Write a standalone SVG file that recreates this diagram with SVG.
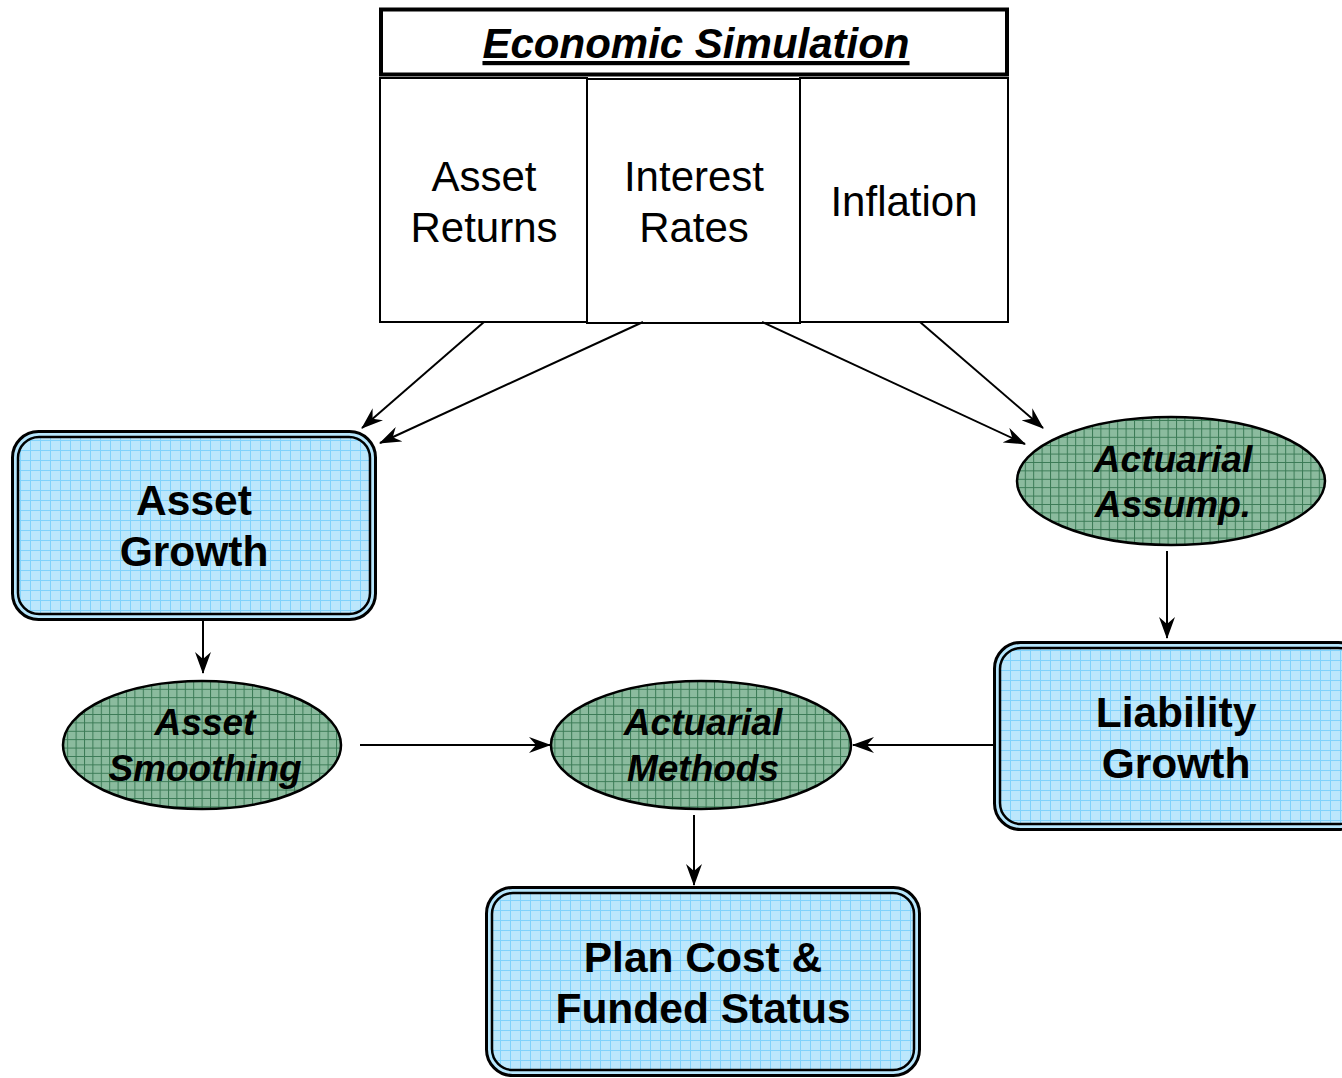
<svg xmlns="http://www.w3.org/2000/svg" width="1342" height="1078" viewBox="0 0 1342 1078">
  <style>
    .cell { fill: #ffffff; stroke: #000; stroke-width: 2; }
    .cellText { font-family: "Liberation Sans", Arial, sans-serif; font-size: 42px; fill: #000; text-anchor: middle; }
    .boxOuter { fill: #b7e6fc; stroke: #000; stroke-width: 3; }
    .boxInner { fill: url(#blueGrid); stroke: #000; stroke-width: 2.5; }
    .boxText { font-family: "Liberation Sans", Arial, sans-serif; font-size: 42.5px; font-weight: bold; fill: #000; text-anchor: middle; }
    .oval { fill: url(#greenGrid); stroke: #000; stroke-width: 2.5; }
    .ovalText { font-family: "Liberation Sans", Arial, sans-serif; font-size: 37px; font-weight: bold; font-style: italic; fill: #000; text-anchor: middle; }
    .link { stroke: #000; stroke-width: 2; fill: none; marker-end: url(#arrow); }
  </style>
  <defs>
    <pattern id="blueGrid" patternUnits="userSpaceOnUse" width="10" height="10">
      <rect width="10" height="10" fill="#bce7fc"/>
      <path d="M0 0.5H10M0.5 0V10" stroke="#80d2fb" stroke-width="1"/>
    </pattern>
    <pattern id="greenGrid" patternUnits="userSpaceOnUse" width="8.4" height="8.4">
      <rect width="8.4" height="8.4" fill="#8bbb9e"/>
      <path d="M0 0.5H8.4M0.5 0V8.4" stroke="#3a7a55" stroke-width="1"/>
    </pattern>
    <marker id="arrow" viewBox="0 0 22 16" refX="21" refY="8" markerWidth="22" markerHeight="16" markerUnits="userSpaceOnUse" orient="auto">
      <path d="M0 0L22 8L0 16L7 8Z" fill="#000"/>
    </marker>
  </defs>

  <!-- Economic simulation header and its three drivers -->
  <g id="economic-simulation">
    <rect x="381" y="9.5" width="626" height="65" fill="#fff" stroke="#000" stroke-width="4"/>
    <text x="696" y="58" font-family="Liberation Sans, Arial, sans-serif" font-size="42" font-weight="bold" font-style="italic" text-anchor="middle" text-decoration="underline">Economic Simulation</text>
  </g>
  <g id="asset-returns">
    <rect class="cell" x="380" y="78" width="207" height="244"/>
    <text class="cellText" x="484" y="191">Asset</text>
    <text class="cellText" x="484" y="242">Returns</text>
  </g>
  <g id="interest-rates">
    <rect class="cell" x="587" y="79" width="213" height="244"/>
    <text class="cellText" x="694" y="191">Interest</text>
    <text class="cellText" x="694" y="242">Rates</text>
  </g>
  <g id="inflation">
    <rect class="cell" x="800" y="78" width="208" height="244"/>
    <text class="cellText" x="904" y="216">Inflation</text>
  </g>

  <!-- Connectors -->
  <g id="connectors">
    <line class="link" x1="484" y1="322" x2="362" y2="428"/>
    <line class="link" x1="643" y1="322" x2="380" y2="443"/>
    <line class="link" x1="762" y1="322" x2="1025" y2="444"/>
    <line class="link" x1="920" y1="322" x2="1043" y2="428"/>
    <line class="link" x1="1167" y1="551" x2="1167" y2="638"/>
    <line class="link" x1="203" y1="621" x2="203" y2="673"/>
    <line class="link" x1="360" y1="745" x2="550" y2="745"/>
    <line class="link" x1="993" y1="745" x2="853" y2="745"/>
    <line class="link" x1="694" y1="815" x2="694" y2="885"/>
  </g>

  <!-- Result boxes -->
  <g id="asset-growth">
    <rect class="boxOuter" x="12.5" y="431.5" width="363" height="188" rx="26"/>
    <rect class="boxInner" x="18" y="437" width="352" height="177" rx="21"/>
    <text class="boxText" x="194" y="515">Asset</text>
    <text class="boxText" x="194" y="566">Growth</text>
  </g>
  <g id="liability-growth">
    <rect class="boxOuter" x="994.5" y="642.5" width="370" height="187" rx="26"/>
    <rect class="boxInner" x="1000" y="648" width="359" height="176" rx="21"/>
    <text class="boxText" x="1176" y="727">Liability</text>
    <text class="boxText" x="1176" y="778">Growth</text>
  </g>
  <g id="plan-cost">
    <rect class="boxOuter" x="486.5" y="887.5" width="433" height="188" rx="26"/>
    <rect class="boxInner" x="492" y="893" width="422" height="177" rx="21"/>
    <text class="boxText" x="703" y="972">Plan Cost &amp;</text>
    <text class="boxText" x="703" y="1023">Funded Status</text>
  </g>

  <!-- Method / assumption ovals -->
  <g id="actuarial-assumptions">
    <ellipse class="oval" cx="1171" cy="481" rx="154" ry="64"/>
    <text class="ovalText" x="1173" y="472">Actuarial</text>
    <text class="ovalText" x="1173" y="517">Assump.</text>
  </g>
  <g id="asset-smoothing">
    <ellipse class="oval" cx="202" cy="745" rx="139" ry="64"/>
    <text class="ovalText" x="205" y="735">Asset</text>
    <text class="ovalText" x="205" y="781">Smoothing</text>
  </g>
  <g id="actuarial-methods">
    <ellipse class="oval" cx="701" cy="745" rx="150" ry="64"/>
    <text class="ovalText" x="703" y="735">Actuarial</text>
    <text class="ovalText" x="703" y="781">Methods</text>
  </g>
</svg>
